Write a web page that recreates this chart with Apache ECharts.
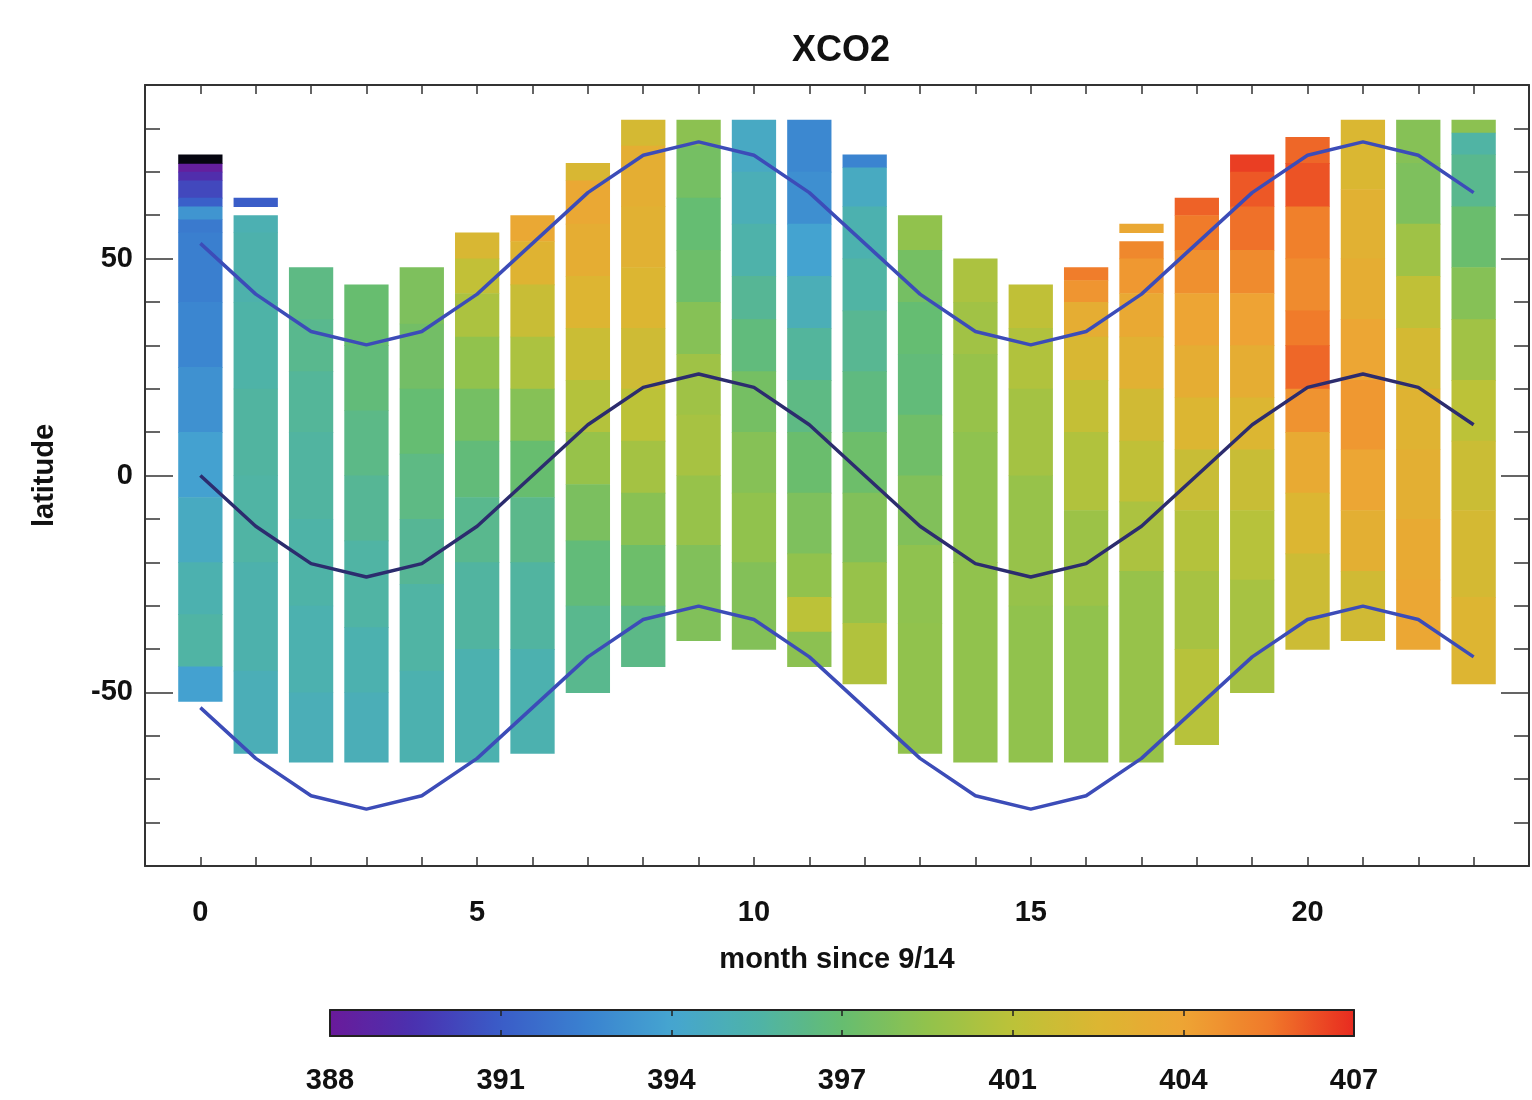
<!DOCTYPE html>
<html>
<head>
<meta charset="utf-8">
<title>XCO2</title>
<script src="https://cdn.jsdelivr.net/npm/echarts@6/dist/echarts.min.js"></script>
<style>
  html, body { margin: 0; padding: 0; background: #fff; }
  #chart { width: 1532px; height: 1100px; }
</style>
</head>
<body>
<div id="chart"></div>
<script>
// months since 9/14 for the curves
const months = [0, 1, 2, 3, 4, 5, 6, 7, 8, 9, 10, 11, 12, 13, 14, 15, 16, 17, 18, 19, 20, 21, 22, 23];
// subsolar latitude and the +/- limits drawn over the columns
const northLimit = [53.5, 41.8, 33.2, 30.1, 33.2, 41.8, 53.5, 65.2, 73.8, 76.9, 73.8, 65.2, 53.5, 41.8, 33.2, 30.1, 33.2, 41.8, 53.5, 65.2, 73.8, 76.9, 73.8, 65.2];
const subsolar = [0, -11.7, -20.3, -23.4, -20.3, -11.7, 0, 11.7, 20.3, 23.4, 20.3, 11.7, 0, -11.7, -20.3, -23.4, -20.3, -11.7, 0, 11.7, 20.3, 23.4, 20.3, 11.7];
const southLimit = [-53.5, -65.2, -73.8, -76.9, -73.8, -65.2, -53.5, -41.8, -33.2, -30.1, -33.2, -41.8, -53.5, -65.2, -73.8, -76.9, -73.8, -65.2, -53.5, -41.8, -33.2, -30.1, -33.2, -41.8];

// [month, latLow, latHigh, xco2 ppm]
const xco2Cells = [
  [0, 70, 72, 388.3], [0, 68, 70, 389.3], [0, 64, 68, 390.4], [0, 62, 64, 391.3],
  [0, 59, 62, 393.6], [0, 56, 59, 392.4], [0, 40, 56, 392.6], [0, 25, 40, 392.9], [0, 10, 25, 393.4],
  [0, -5, 10, 394.1], [0, -20, -5, 394.9], [0, -32, -20, 395.6], [0, -44, -32, 396.0], [0, -52, -44, 394.1],

  [1, 62, 64, 391.2], [1, 56, 60, 395.5], [1, 40, 56, 395.7], [1, 20, 40, 395.9], [1, 0, 20, 396.1],
  [1, -20, 0, 396.0], [1, -45, -20, 395.7], [1, -64, -45, 395.3],

  [2, 36, 48, 396.9], [2, 24, 36, 396.6], [2, 10, 24, 396.3], [2, -10, 10, 396.1], [2, -30, -10, 395.9],
  [2, -50, -30, 395.6], [2, -66, -50, 395.3],

  [3, 30, 44, 397.5], [3, 15, 30, 397.2], [3, 0, 15, 396.8], [3, -15, 0, 396.4], [3, -35, -15, 396.0],
  [3, -50, -35, 395.6], [3, -66, -50, 395.3],

  [4, 35, 48, 398.3], [4, 20, 35, 397.9], [4, 5, 20, 397.4], [4, -10, 5, 396.9], [4, -25, -10, 396.4],
  [4, -45, -25, 396.0], [4, -66, -45, 395.6],

  [5, 50, 56, 402.0], [5, 42, 50, 400.9], [5, 32, 42, 400.0], [5, 20, 32, 399.0], [5, 8, 20, 398.0],
  [5, -5, 8, 397.2], [5, -20, -5, 396.6], [5, -40, -20, 396.1], [5, -66, -40, 395.6],

  [6, 54, 60, 403.4], [6, 44, 54, 402.4], [6, 32, 44, 401.2], [6, 20, 32, 400.0], [6, 8, 20, 398.6],
  [6, -5, 8, 397.5], [6, -20, -5, 396.7], [6, -40, -20, 396.1], [6, -64, -40, 395.6],

  [7, 68, 72, 402.0], [7, 58, 68, 403.4], [7, 46, 58, 403.0], [7, 34, 46, 402.3], [7, 22, 34, 401.3],
  [7, 10, 22, 400.3], [7, -2, 10, 399.2], [7, -15, -2, 398.2], [7, -30, -15, 397.2], [7, -50, -30, 396.6],

  [8, 76, 82, 401.8], [8, 62, 76, 402.9], [8, 48, 62, 402.6], [8, 34, 48, 402.2], [8, 20, 34, 401.5],
  [8, 8, 20, 400.6], [8, -4, 8, 399.7], [8, -16, -4, 398.7], [8, -30, -16, 397.7], [8, -44, -30, 396.8],

  [9, 76, 82, 398.8], [9, 64, 76, 398.0], [9, 52, 64, 397.4], [9, 40, 52, 397.7], [9, 28, 40, 398.6],
  [9, 14, 28, 399.5], [9, 0, 14, 399.8], [9, -16, 0, 399.2], [9, -38, -16, 398.4],

  [10, 70, 82, 394.8], [10, 58, 70, 395.3], [10, 46, 58, 395.8], [10, 36, 46, 396.4], [10, 24, 36, 397.1],
  [10, 10, 24, 398.0], [10, -4, 10, 398.6], [10, -20, -4, 399.0], [10, -40, -20, 398.5],

  [11, 70, 82, 393.0], [11, 58, 70, 393.3], [11, 46, 58, 394.2], [11, 34, 46, 395.3], [11, 22, 34, 396.2],
  [11, 10, 22, 396.9], [11, -4, 10, 397.6], [11, -18, -4, 398.3], [11, -28, -18, 399.0], [11, -36, -28, 400.6],
  [11, -44, -36, 398.8],

  [12, 71, 74, 392.8], [12, 62, 71, 394.9], [12, 50, 62, 395.6], [12, 38, 50, 396.0], [12, 24, 38, 396.5],
  [12, 10, 24, 397.0], [12, -4, 10, 397.7], [12, -20, -4, 398.4], [12, -34, -20, 399.2], [12, -48, -34, 400.2],

  [13, 52, 60, 399.0], [13, 40, 52, 398.0], [13, 28, 40, 397.4], [13, 14, 28, 397.2], [13, 0, 14, 397.8],
  [13, -16, 0, 398.4], [13, -34, -16, 398.9], [13, -64, -34, 399.0],

  [14, 40, 50, 400.0], [14, 28, 40, 399.6], [14, 10, 28, 399.2], [14, -20, 10, 398.9], [14, -66, -20, 399.0],

  [15, 34, 44, 400.8], [15, 20, 34, 400.2], [15, 0, 20, 399.7], [15, -30, 0, 399.2], [15, -66, -30, 399.0],

  [16, 45, 48, 405.2], [16, 40, 45, 404.3], [16, 32, 40, 403.0], [16, 22, 32, 402.0], [16, 10, 22, 401.0],
  [16, -8, 10, 400.2], [16, -30, -8, 399.4], [16, -66, -30, 399.0],

  [17, 56, 58, 403.4], [17, 50, 54, 404.8], [17, 42, 50, 404.2], [17, 32, 42, 403.3], [17, 20, 32, 402.6],
  [17, 8, 20, 401.6], [17, -6, 8, 400.8], [17, -22, -6, 400.0], [17, -66, -22, 399.2],

  [18, 60, 64, 405.8], [18, 52, 60, 405.3], [18, 42, 52, 404.5], [18, 30, 42, 403.7], [18, 18, 30, 403.0],
  [18, 6, 18, 402.2], [18, -8, 6, 401.2], [18, -22, -8, 400.3], [18, -40, -22, 399.8], [18, -62, -40, 400.4],

  [19, 70, 74, 406.5], [19, 62, 70, 406.0], [19, 52, 62, 405.5], [19, 42, 52, 404.7], [19, 30, 42, 403.8],
  [19, 18, 30, 403.0], [19, 6, 18, 402.2], [19, -8, 6, 401.2], [19, -24, -8, 400.4], [19, -50, -24, 399.8],

  [20, 72, 78, 405.7], [20, 62, 72, 406.1], [20, 50, 62, 405.1], [20, 38, 50, 404.7], [20, 30, 38, 405.3],
  [20, 20, 30, 405.7], [20, 10, 20, 404.4], [20, -4, 10, 403.2], [20, -18, -4, 402.2], [20, -40, -18, 401.4],

  [21, 66, 82, 402.1], [21, 50, 66, 402.6], [21, 36, 50, 403.0], [21, 22, 36, 403.6], [21, 6, 22, 404.2],
  [21, -8, 6, 403.6], [21, -22, -8, 402.8], [21, -38, -22, 401.6],

  [22, 72, 82, 398.6], [22, 58, 72, 398.3], [22, 46, 58, 399.5], [22, 34, 46, 400.8], [22, 20, 34, 401.8],
  [22, 6, 20, 402.4], [22, -10, 6, 402.8], [22, -24, -10, 403.2], [22, -40, -24, 403.5],

  [23, 79, 82, 398.8], [23, 74, 79, 396.0], [23, 62, 74, 396.6], [23, 48, 62, 397.6], [23, 36, 48, 398.6],
  [23, 22, 36, 399.6], [23, 8, 22, 400.6], [23, -8, 8, 401.3], [23, -28, -8, 401.8], [23, -48, -28, 402.3]
];
// cells below the colour range (drawn black)
const belowRangeCells = [[0, 72, 74, 387.3]];

const latMajorTicks = [-50, 0, 50];
const latMinorTicks = [-80, -70, -60, -40, -30, -20, -10, 10, 20, 30, 40, 60, 70, 80];
const monthLabels = [0, 5, 10, 15, 20];
const colorTickLabels = ['388', '391', '394', '397', '401', '404', '407'];

const rainbow = ['#6a1a9a', '#4a32b0', '#3a5cc8', '#3a82d0', '#45a5d0', '#4eb3a8', '#66bd70',
                 '#92c24c', '#bcc238', '#dcb632', '#eea434', '#f07a2a', '#e82a20'];

const axisColor = '#333';
const textStyle = { color: '#111', fontFamily: 'Liberation Sans', fontWeight: 'bold', fontSize: 29 };

function drawCell(params, api) {
  const m = api.value(0);
  const p0 = api.coord([m - 0.4, api.value(2)]);
  const p1 = api.coord([m + 0.4, api.value(1)]);
  return {
    type: 'rect',
    shape: { x: p0[0], y: p0[1], width: p1[0] - p0[0], height: p1[1] - p0[1] + 0.6 },
    style: { fill: api.visual('color') }
  };
}

const chart = echarts.init(document.getElementById('chart'));

chart.setOption({
  animation: false,
  backgroundColor: '#fff',
  title: {
    text: 'XCO2',
    left: 792,
    top: 33,
    padding: 0,
    textStyle: { color: '#111', fontFamily: 'Liberation Sans', fontWeight: 'bold', fontSize: 36 }
  },
  grid: [
    { left: 145, top: 85, width: 1393, height: 781 },
    { left: 330, top: 1010, width: 1024, height: 26, z: 10 }
  ],
  xAxis: [
    {
      type: 'value', gridIndex: 0, min: -1, max: 24, interval: 1, position: 'bottom',
      name: 'month since 9/14', nameLocation: 'middle', nameGap: 79, nameTextStyle: textStyle,
      axisLine: { onZero: false, lineStyle: { color: axisColor, width: 2 } },
      axisTick: { inside: true, length: 9, lineStyle: { color: axisColor, width: 1.5 } },
      axisLabel: {
        margin: 32, ...textStyle,
        formatter: v => (monthLabels.indexOf(v) >= 0 ? String(v) : '')
      },
      splitLine: { show: false }
    },
    {
      type: 'value', gridIndex: 0, min: -1, max: 24, interval: 1, position: 'top',
      axisLine: { onZero: false, lineStyle: { color: axisColor, width: 2 } },
      axisTick: { inside: true, length: 9, lineStyle: { color: axisColor, width: 1.5 } },
      axisLabel: { show: false },
      splitLine: { show: false }
    },
    {
      type: 'value', gridIndex: 1, min: 0, max: 6, interval: 1, position: 'bottom', z: 10,
      axisLine: { onZero: false, lineStyle: { color: '#222', width: 2 } },
      axisTick: { inside: true, length: 6, lineStyle: { color: '#222', width: 1.5 } },
      axisLabel: { margin: 30, ...textStyle, formatter: v => colorTickLabels[v] },
      splitLine: { show: false }
    },
    {
      type: 'value', gridIndex: 1, min: 0, max: 6, interval: 1, position: 'top', z: 10,
      axisLine: { onZero: false, lineStyle: { color: '#222', width: 2 } },
      axisTick: { inside: true, length: 6, lineStyle: { color: '#222', width: 1.5 } },
      axisLabel: { show: false },
      splitLine: { show: false }
    }
  ],
  yAxis: [
    {
      type: 'value', gridIndex: 0, min: -90, max: 90, position: 'left', offset: 0,
      name: 'latitude', nameLocation: 'middle', nameGap: 86, nameRotate: 90, nameTextStyle: textStyle,
      axisLine: { show: true, onZero: false, lineStyle: { color: axisColor, width: 2 } },
      axisTick: { inside: true, length: 28, customValues: latMajorTicks, lineStyle: { color: axisColor, width: 1.5 } },
      axisLabel: { margin: 12, customValues: latMajorTicks, ...textStyle },
      splitLine: { show: false }
    },
    {
      type: 'value', gridIndex: 0, min: -90, max: 90, position: 'left', offset: 0,
      axisLine: { show: false, onZero: false },
      axisTick: { inside: true, length: 15, customValues: latMinorTicks, lineStyle: { color: axisColor, width: 1.5 } },
      axisLabel: { show: false },
      splitLine: { show: false }
    },
    {
      type: 'value', gridIndex: 0, min: -90, max: 90, position: 'right', offset: 0,
      axisLine: { show: true, onZero: false, lineStyle: { color: axisColor, width: 2 } },
      axisTick: { inside: true, length: 28, customValues: latMajorTicks, lineStyle: { color: axisColor, width: 1.5 } },
      axisLabel: { show: false },
      splitLine: { show: false }
    },
    {
      type: 'value', gridIndex: 0, min: -90, max: 90, position: 'right', offset: 0,
      axisLine: { show: false, onZero: false },
      axisTick: { inside: true, length: 15, customValues: latMinorTicks, lineStyle: { color: axisColor, width: 1.5 } },
      axisLabel: { show: false },
      splitLine: { show: false }
    },
    {
      type: 'value', gridIndex: 1, min: 0, max: 1, position: 'left', z: 10,
      axisLine: { show: true, onZero: false, lineStyle: { color: '#222', width: 2 } },
      axisTick: { show: false }, axisLabel: { show: false }, splitLine: { show: false }
    },
    {
      type: 'value', gridIndex: 1, min: 0, max: 1, position: 'right', z: 10,
      axisLine: { show: true, onZero: false, lineStyle: { color: '#222', width: 2 } },
      axisTick: { show: false }, axisLabel: { show: false }, splitLine: { show: false }
    }
  ],
  visualMap: {
    type: 'continuous',
    seriesIndex: 0,
    dimension: 3,
    min: 388,
    max: 406.9,
    orient: 'horizontal',
    left: 330,
    top: 1010,
    padding: 0,
    itemWidth: 26,
    itemHeight: 1024,
    calculable: false,
    realtime: false,
    text: null,
    inRange: { color: rainbow }
  },
  series: [
    {
      type: 'custom',
      xAxisIndex: 0,
      yAxisIndex: 0,
      data: xco2Cells,
      encode: { x: 0, y: [1, 2] },
      renderItem: drawCell,
      z: 1
    },
    {
      type: 'custom',
      xAxisIndex: 0,
      yAxisIndex: 0,
      data: belowRangeCells,
      encode: { x: 0, y: [1, 2] },
      itemStyle: { color: '#050510' },
      renderItem: drawCell,
      z: 1
    },
    {
      type: 'line', xAxisIndex: 0, yAxisIndex: 0, z: 3,
      data: months.map((m, i) => [m, northLimit[i]]),
      symbol: 'none', lineStyle: { color: '#3c4cb8', width: 3.5 }
    },
    {
      type: 'line', xAxisIndex: 0, yAxisIndex: 0, z: 3,
      data: months.map((m, i) => [m, subsolar[i]]),
      symbol: 'none', lineStyle: { color: '#2c2c6e', width: 3.5 }
    },
    {
      type: 'line', xAxisIndex: 0, yAxisIndex: 0, z: 3,
      data: months.map((m, i) => [m, southLimit[i]]),
      symbol: 'none', lineStyle: { color: '#3c4cb8', width: 3.5 }
    }
  ]
});
</script>
</body>
</html>
